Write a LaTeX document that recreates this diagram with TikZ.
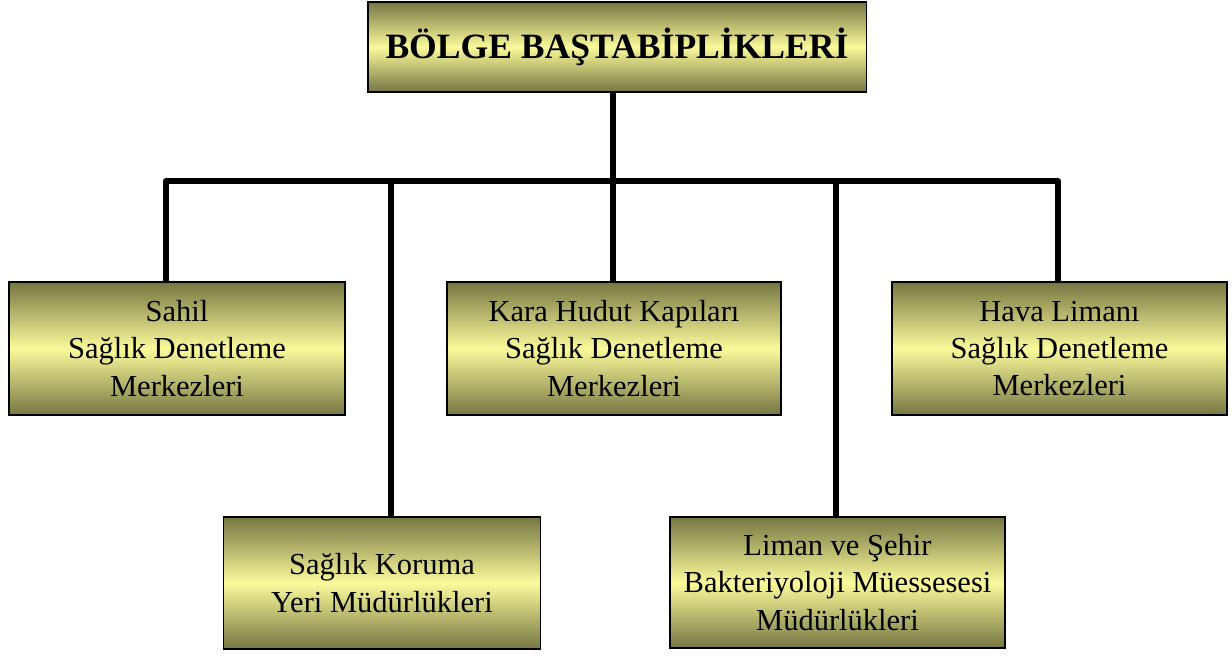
\documentclass[tikz,border=0pt]{standalone}
\usepackage{fontspec}
\setmainfont{Liberation Serif}
\definecolor{olivedark}{RGB}{118,118,66}
\definecolor{olivelight}{RGB}{250,250,155}

\begin{document}
\begin{tikzpicture}[x=0.025cm, y=-0.025cm,
  box/.style = {draw=black, line width=0.8pt, top color=olivedark, bottom color=olivedark,
    middle color=olivelight, align=center, inner sep=0pt,
    font=\fontsize{21.7}{26.5}\selectfont},
  wire/.style = {line width=4.3pt, line join=round}]
\useasboundingbox (0,0) rectangle (1232,657);
% boxes
\node[box, minimum width=12.45cm, minimum height=2.25cm, font=\fontsize{25.3}{30}\selectfont\bfseries] (bolge) at (617,47) {BÖLGE BAŞTABİPLİKLERİ};
\node[box, minimum width=8.4cm, minimum height=3.325cm] (sahil) at (177,348.5) {Sahil\\Sağlık Denetleme\\Merkezleri};
\node[box, minimum width=8.35cm, minimum height=3.325cm] (kara) at (614,348.5) {Kara Hudut Kapıları\\Sağlık Denetleme\\Merkezleri};
\node[box, minimum width=8.375cm, minimum height=3.325cm] (hava) at (1059.5,348.5) {Hava Limanı\\Sağlık Denetleme\\Merkezleri};
\node[box, minimum width=7.925cm, minimum height=3.3cm] (koruma) at (382,583) {Sağlık Koruma\\Yeri Müdürlükleri};
\node[box, minimum width=8.375cm, minimum height=3.275cm] (liman) at (837.5,582.5) {Liman ve Şehir\\Bakteriyoloji Müessesesi\\Müdürlükleri};
% bar
\coordinate (b0) at (613,181);
\coordinate (b1) at (166,181);
\coordinate (b2) at (391,181);
\coordinate (b4) at (836,181);
\coordinate (b5) at (1058,181);
\draw[wire] (b0 |- bolge.south) -- (b0);
\draw[wire] (b1 |- sahil.north) -- (b1) -- (b5) -- (b5 |- hava.north);
\draw[wire] (b0) -- (b0 |- kara.north);
\draw[wire] (b2) -- (b2 |- koruma.north);
\draw[wire] (b4) -- (b4 |- liman.north);
\end{tikzpicture}
\end{document}
